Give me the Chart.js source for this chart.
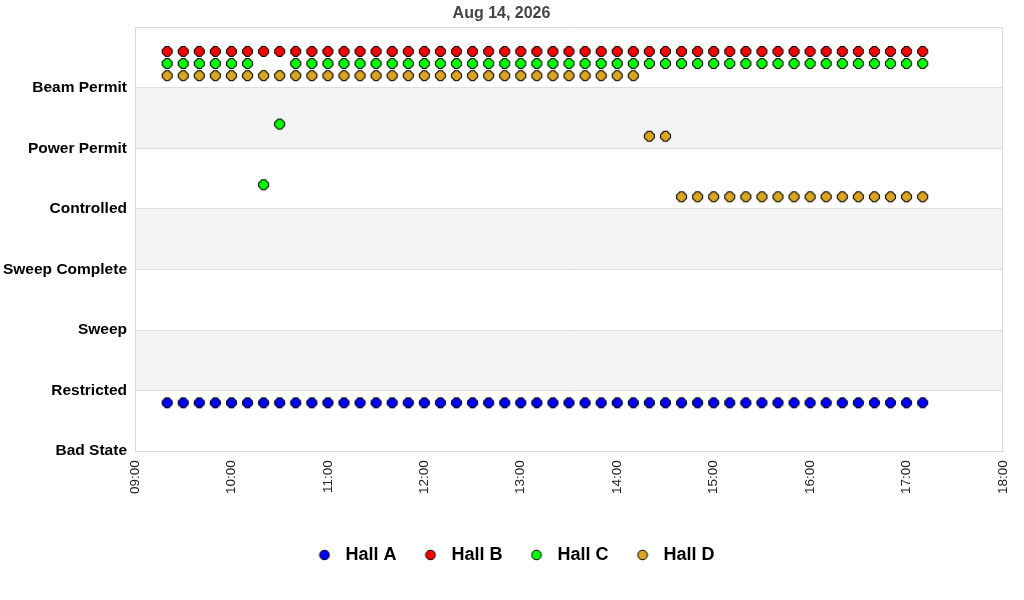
<!DOCTYPE html>
<html>
<head>
<meta charset="utf-8">
<script src="https://cdn.jsdelivr.net/npm/chart.js@4.4.1/dist/chart.umd.min.js"></script>
<style>
html,body{margin:0;padding:0;background:#fff;}
#wrap{width:1024px;height:600px;}
</style>
</head>
<body>
<div id="wrap"><canvas id="c" width="1024" height="600"></canvas></div>
<script>
const titleText = 'Aug 14, 2026';
const stateLabels = ['Bad State','Restricted','Sweep','Sweep Complete','Controlled','Power Permit','Beam Permit'];
const xTickLabels = ['09:00','10:00','11:00','12:00','13:00','14:00','15:00','16:00','17:00','18:00'];
const times = ['09:20','09:30','09:40','09:50','10:00','10:10','10:20','10:30','10:40','10:50',
  '11:00','11:10','11:20','11:30','11:40','11:50','12:00','12:10','12:20','12:30',
  '12:40','12:50','13:00','13:10','13:20','13:30','13:40','13:50','14:00','14:10',
  '14:20','14:30','14:40','14:50','15:00','15:10','15:20','15:30','15:40','15:50',
  '16:00','16:10','16:20','16:30','16:40','16:50','17:00','17:10'];
const hallA = [0.8,0.8,0.8,0.8,0.8,0.8,0.8,0.8,0.8,0.8,
  0.8,0.8,0.8,0.8,0.8,0.8,0.8,0.8,0.8,0.8,
  0.8,0.8,0.8,0.8,0.8,0.8,0.8,0.8,0.8,0.8,
  0.8,0.8,0.8,0.8,0.8,0.8,0.8,0.8,0.8,0.8,
  0.8,0.8,0.8,0.8,0.8,0.8,0.8,0.8];
const hallB = [6.6,6.6,6.6,6.6,6.6,6.6,6.6,6.6,6.6,6.6,
  6.6,6.6,6.6,6.6,6.6,6.6,6.6,6.6,6.6,6.6,
  6.6,6.6,6.6,6.6,6.6,6.6,6.6,6.6,6.6,6.6,
  6.6,6.6,6.6,6.6,6.6,6.6,6.6,6.6,6.6,6.6,
  6.6,6.6,6.6,6.6,6.6,6.6,6.6,6.6];
const hallC = [6.4,6.4,6.4,6.4,6.4,6.4,4.4,5.4,6.4,6.4,
  6.4,6.4,6.4,6.4,6.4,6.4,6.4,6.4,6.4,6.4,
  6.4,6.4,6.4,6.4,6.4,6.4,6.4,6.4,6.4,6.4,
  6.4,6.4,6.4,6.4,6.4,6.4,6.4,6.4,6.4,6.4,
  6.4,6.4,6.4,6.4,6.4,6.4,6.4,6.4];
const hallD = [6.2,6.2,6.2,6.2,6.2,6.2,6.2,6.2,6.2,6.2,
  6.2,6.2,6.2,6.2,6.2,6.2,6.2,6.2,6.2,6.2,
  6.2,6.2,6.2,6.2,6.2,6.2,6.2,6.2,6.2,6.2,
  5.2,5.2,4.2,4.2,4.2,4.2,4.2,4.2,4.2,4.2,
  4.2,4.2,4.2,4.2,4.2,4.2,4.2,4.2];
const seriesNames = ['Hall A','Hall B','Hall C','Hall D'];
const seriesColors = ['#0000ff','#ff0000','#00ff00','#daa520'];
const seriesValues = [hallA, hallB, hallC, hallD];

function toMin(s){ const p = s.split(':'); return (+p[0])*60 + (+p[1]); }
function fmt(m){ const h = Math.floor(m/60), mm = m%60; return String(h).padStart(2,'0')+':'+String(mm).padStart(2,'0'); }

function legendDot(color){
  const c = document.createElement('canvas');
  c.width = 12; c.height = 12;
  const g = c.getContext('2d');
  g.beginPath(); g.arc(6, 6, 4.8, 0, Math.PI*2);
  g.fillStyle = color; g.fill();
  g.lineWidth = 1; g.strokeStyle = '#000'; g.stroke();
  return c;
}
function marker(color){
  const c = document.createElement('canvas');
  c.width = 13; c.height = 13;
  const g = c.getContext('2d');
  const m = 6.5, h = 5, k = 1.6;
  g.beginPath();
  g.moveTo(m-k, m-h); g.lineTo(m+k, m-h); g.lineTo(m+h, m-k); g.lineTo(m+h, m+k);
  g.lineTo(m+k, m+h); g.lineTo(m-k, m+h); g.lineTo(m-h, m+k); g.lineTo(m-h, m-k);
  g.closePath();
  g.fillStyle = color; g.fill();
  g.lineWidth = 1.1; g.strokeStyle = '#000'; g.stroke();
  return c;
}

const datasets = seriesNames.map((n,i)=>({
  label: n,
  data: times.map((t,j)=>({x: toMin(t), y: seriesValues[i][j]})),
  backgroundColor: seriesColors[i],
  borderColor: '#000',
  borderWidth: 1,
  pointStyle: marker(seriesColors[i]),
  pointRadius: 5,
  pointHoverRadius: 5,
  showLine: false
}));

const bandPlugin = {
  id: 'bands',
  afterLayout(chart){
    if (chart.legend) { chart.legend.left += 12; chart.legend.right += 12; }
  },
  beforeDraw(chart){
    const {ctx, chartArea:a, scales:{y}} = chart;
    ctx.save();
    ctx.fillStyle = '#f3f3f3';
    [[1,2],[3,4],[5,6]].forEach(([lo,hi])=>{
      const y1 = y.getPixelForValue(hi), y2 = y.getPixelForValue(lo);
      ctx.fillRect(a.left, y1, a.right-a.left, y2-y1);
    });
    ctx.restore();
  },
  beforeDatasetsDraw(chart){
    const {ctx, chartArea:a} = chart;
    ctx.save();
    ctx.strokeStyle = '#d9d9d9';
    ctx.lineWidth = 1;
    ctx.strokeRect(a.left+0.5, a.top+0.5, a.right-a.left-1, a.bottom-a.top);
    ctx.restore();
  }
};

new Chart(document.getElementById('c'), {
  type: 'scatter',
  data: { datasets },
  plugins: [bandPlugin],
  options: {
    responsive: false,
    animation: false,
    layout: { padding: { left: 0, right: 21, top: 0, bottom: 26 } },
    plugins: {
      title: { display: true, text: titleText, color: '#444', font: { family: 'Liberation Sans, Arial, sans-serif', size: 16, weight: 'bold' }, padding: { top: 4, bottom: 4 } },
      legend: {
        position: 'bottom',
        labels: {
          usePointStyle: true,
          boxHeight: 12,
          pointStyleWidth: 24,
          padding: 22,
          color: '#000',
          font: { family: 'Liberation Sans, Arial, sans-serif', size: 18, weight: 'bold' },
          generateLabels(chart){
            return chart.data.datasets.map((d,i)=>({
              text: d.label, fillStyle: d.backgroundColor, strokeStyle: '#000', lineWidth: 1,
              pointStyle: legendDot(d.backgroundColor), rotation: 0, datasetIndex: i, hidden: false, fontColor: '#000'
            }));
          }
        }
      },
      tooltip: { enabled: false }
    },
    scales: {
      x: {
        type: 'linear',
        min: toMin(xTickLabels[0]),
        max: toMin(xTickLabels[xTickLabels.length-1]),
        afterBuildTicks(scale){ scale.ticks = xTickLabels.map(t=>({value: toMin(t)})); },
        afterFit(scale){ scale.height += 29; },
        ticks: {
          minRotation: 90, maxRotation: 90, padding: 1, color: '#222',
          font: { family: 'Liberation Sans, Arial, sans-serif', size: 13.5 },
          callback: v => fmt(v)
        },
        grid: { display: false },
        border: { display: true, color: '#d9d9d9' }
      },
      y: {
        type: 'linear', min: 0, max: 7,
        afterBuildTicks(scale){ scale.ticks = [0,1,2,3,4,5,6,7].map(v=>({value:v})); },
        afterFit(scale){ scale.width = 135; },
        ticks: {
          padding: 8, color: '#000',
          font: { family: 'Liberation Sans, Arial, sans-serif', size: 15.5, weight: 'bold' },
          callback: v => (stateLabels[v] !== undefined ? stateLabels[v] : '')
        },
        grid: { color: '#dedede', drawTicks: false },
        border: { display: true, color: '#d9d9d9' }
      }
    }
  }
});
</script>
</body>
</html>
